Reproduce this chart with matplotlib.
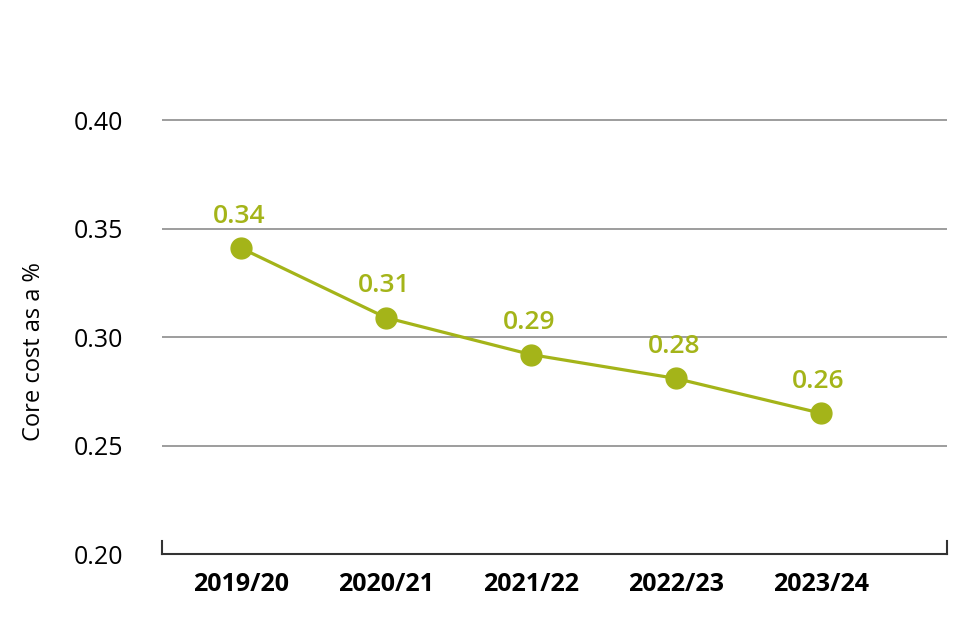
import matplotlib
matplotlib.use('Agg')
import matplotlib.pyplot as plt
import matplotlib.transforms as mtransforms

# Data
years = ['2019/20', '2020/21', '2021/22', '2022/23', '2023/24']
core_cost = [0.341, 0.309, 0.292, 0.281, 0.265]
value_labels = ['0.34', '0.31', '0.29', '0.28', '0.26']

GREEN = '#a4b419'
plt.rcParams['font.family'] = ['Open Sans', 'DejaVu Sans']

fig = plt.figure(figsize=(9.6, 6.4), dpi=100)
ax = fig.add_axes([0.169, 0.134, 0.817, 0.680])

x = list(range(len(years)))
ax.plot(x, core_cost, color=GREEN, linewidth=2.3, marker='o', markersize=15,
        zorder=3)
for xi, yi, lab in zip(x, core_cost, value_labels):
    ax.annotate(lab, (xi, yi), xytext=(-1.5, 23), textcoords='offset points',
                ha='center', va='center', color=GREEN, fontsize=19,
                fontweight='semibold')

ax.set_xlim(-0.545, 4.869)
ax.set_ylim(0.20, 0.4005)
ax.set_yticks([0.20, 0.25, 0.30, 0.35, 0.40])
ax.set_yticklabels(['0.20', '0.25', '0.30', '0.35', '0.40'], fontsize=18)
ax.set_xticks(x)
ax.set_xticklabels(years, fontsize=18, fontweight='bold')

# shift the category labels a bit right like the original
offset = mtransforms.ScaledTranslation(18 / 100, 0, fig.dpi_scale_trans)
for lbl in ax.get_xticklabels():
    lbl.set_transform(lbl.get_transform() + offset)

ax.tick_params(axis='both', length=0)
ax.tick_params(axis='y', pad=28)
ax.tick_params(axis='x', pad=13)

ax.grid(axis='y', color='#8c8c8c', linewidth=1.2)
ax.set_axisbelow(True)
for s in ['top', 'right', 'left']:
    ax.spines[s].set_visible(False)
ax.spines['bottom'].set_color('#333333')
ax.spines['bottom'].set_linewidth(1.5)

# end ticks on the baseline
for xa in (0, 1):
    ax.plot([xa, xa], [0, 0.03], transform=ax.transAxes, color='#333333',
            linewidth=1.5, clip_on=False)

ax.set_ylabel('Core cost as a %', fontsize=17)
ax.yaxis.set_label_coords(-0.148, 0.465)

fig.savefig('out.png', dpi=100)
